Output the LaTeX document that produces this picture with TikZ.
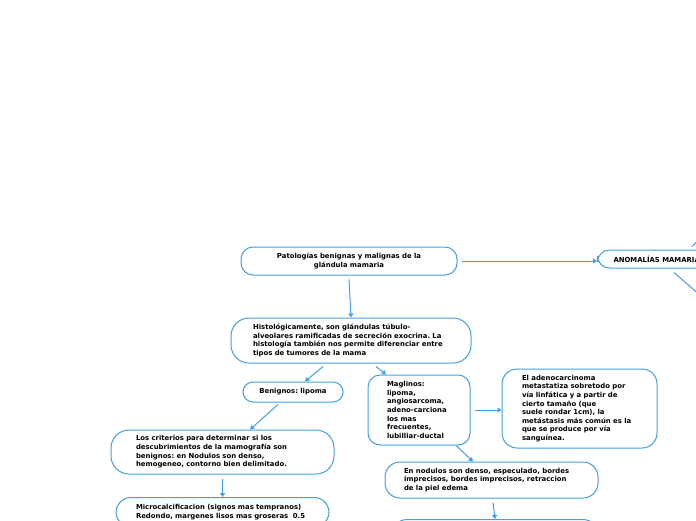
\documentclass[tikz,border=0pt]{standalone}
\usepackage{fontspec}
\setmainfont{DejaVu Sans}
\usetikzlibrary{arrows.meta,calc}
\definecolor{mb}{RGB}{66,160,226}
\begin{document}
\frenchspacing\hyphenpenalty=10000
\begin{tikzpicture}[x=1pt,y=-1pt,
  box/.style={draw=mb,line width=1pt,rounded corners=12pt,
    font=\bfseries\fontsize{6.9}{8.6}\selectfont,align=left,inner ysep=0pt},
  conn/.style={draw=mb,line width=1pt,-{Triangle[length=4pt,width=5pt]}},
  plain/.style={draw=mb,line width=1pt}]
\useasboundingbox (0,0) rectangle (696,520);
\clip (0,0) rectangle (696,520);
\node[box,align=center,text width=176pt,inner xsep=20pt,minimum height=28pt] (pat) at (349,261)
  {Patologías benignas y malignas de la\\glándula mamaria};
\node[box,rounded corners=18pt,text width=196pt,inner xsep=22pt,minimum height=45pt] (hist) at (351,340.5)
  {Histológicamente, son glándulas túbulo-\\alveolares ramificadas de secreción exocrina. La\\histología también nos permite diferenciar entre\\tipos de tumores de la mama};
\node[box,rounded corners=10pt,align=center,text width=80pt,inner xsep=10pt,minimum height=20pt] (ben) at (293,392)
  {Benignos: lipoma};
\node[box,text width=64pt,inner xsep=19pt,minimum height=70pt] (mag) at (419,410)
  {Maglinos:\\lipoma,\\angiosarcoma,\\adeno-carciona\\los mas\\frecuentes,\\lubilliar-ductal};
\node[box,rounded corners=15pt,text width=115pt,inner xsep=20pt,minimum height=79pt] (adeno) at (579.5,408.5)
  {El adenocarcinoma\\metastatiza sobretodo por\\vía linfática y a partir de\\cierto tamaño (que\\suele rondar 1cm), la\\metástasis más común es la\\que se produce por vía\\sanguínea.};
\node[box,rounded corners=18pt,text width=173pt,inner xsep=25pt,minimum height=44pt] (crit) at (222.5,452)
  {Los criterios para determinar si los\\descubrimientos de la mamografía son\\benignos: en Nodulos son denso,\\hemogeneo, contorno bien delimitado.};
\node[box,rounded corners=15pt,text width=173pt,inner xsep=20pt,inner ysep=7pt,anchor=north] (micro) at (222.5,497)
  {Microcalcificacion (signos mas tempranos)\\Redondo, margenes lisos mas groseras\ \ 0.5};
\node[box,rounded corners=15pt,minimum width=206pt,minimum height=30pt,anchor=north] (bot) at (495,519) {};
\node[box,rounded corners=15pt,text width=175pt,inner xsep=19pt,minimum height=36pt] (nod) at (491.5,480)
  {En nodulos son denso, especulado, bordes\\imprecisos, bordes imprecisos, retraccion\\de la piel edema};
\node[box,text width=120pt,inner xsep=16pt,minimum height=18pt,anchor=west] (anom) at (597,259)
  {ANOMALÍAS MAMARIAS};
\coordinate (up) at (720,219);
\coordinate (dn) at (740,330);
\draw[conn] ([xshift=4pt]pat.east) -- (anom.west |- pat.east);
\draw[conn] ([yshift=-4pt]pat.south) -- (hist.north);
\draw[conn] ([xshift=-28pt,yshift=-3pt]hist.south) -- ([xshift=12pt]ben.north);
\draw[conn] ([xshift=25pt,yshift=-3pt]hist.south) -- ([xshift=-33pt]mag.north);
\draw[conn] ([xshift=4pt]mag.east) -- (adeno.west |- mag.east);
\draw[conn] ([xshift=37pt]mag.south) -- ([xshift=-18.5pt]nod.north);
\draw[conn] ([xshift=-15pt,yshift=-2pt]ben.south) -- ([xshift=27.5pt]crit.north);
\draw[conn] ([yshift=-4pt]crit.south) -- (micro.north);
\draw[conn] ([xshift=1.5pt,yshift=-4pt]nod.south) -- (bot.north);
\draw[plain] ($(anom.north west)+(95,-3)$) -- (up);
\draw[plain] ($(anom.south west)+(77,4)$) -- (dn);
\end{tikzpicture}
\end{document}
